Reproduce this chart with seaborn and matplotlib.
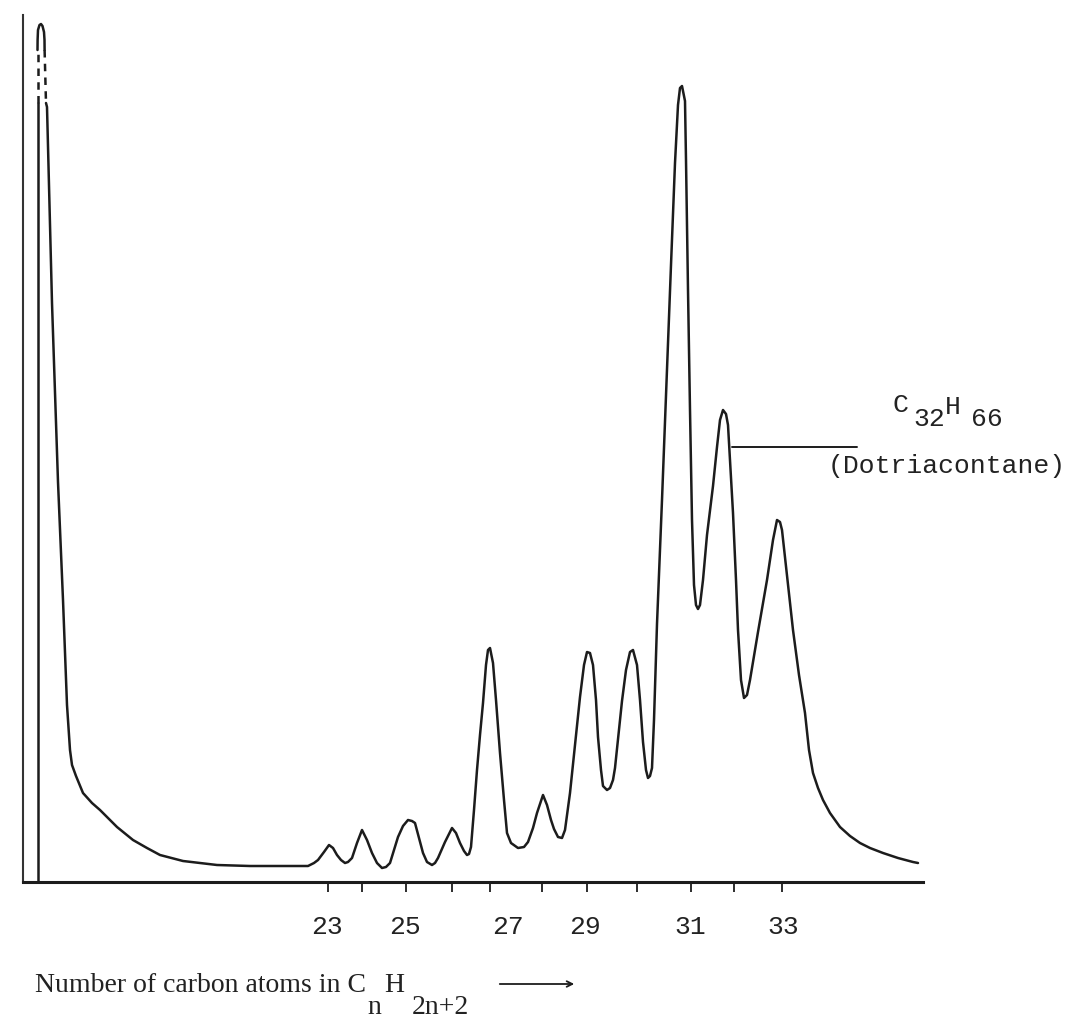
import numpy as np
import pandas as pd
import seaborn as sns
import matplotlib.pyplot as plt

# ==== chromatogram trace ====
# x = distance along the chart, h = pen height above the baseline (same units)
# solvent peak goes off scale; the pen trace is broken (dashed) near the top
solvent_rise_x = [14.5, 14.5]
solvent_rise_h = [0, 779]
gap_left_x = [14.5, 14.5]
gap_left_h = [779, 832]
solvent_cap_x = [14.5, 14.6, 15, 16.5, 18, 19.5, 21, 21.5, 21.6]
solvent_cap_h = [832, 842, 852, 857, 858, 856, 850, 842, 832]
gap_right_x = [21.6, 23]
gap_right_h = [832, 779]

trace_x = [23, 24, 29, 35, 40, 44, 47, 49, 53, 60, 69, 77, 94, 110, 124, 137, 160, 194, 227, 257, 285,
           291, 295, 301, 306, 310, 314, 318, 322, 325, 329, 334, 339, 344, 349, 354, 359, 363, 367,
           371, 375, 380, 385, 389, 392, 396, 400, 404, 409, 412, 415, 422, 429, 433, 437, 441, 444,
           446, 448, 451, 454, 457, 460, 463, 465, 467, 470, 473, 477, 481, 484, 488, 495, 501, 505,
           510, 514, 520, 524, 528, 531, 535, 539, 542, 547, 551, 554, 557, 561, 564, 567, 570, 573,
           575, 578, 580, 584, 587, 590, 592, 596, 599, 603, 607, 610, 614, 617, 620, 623, 625, 627,
           629, 631, 634, 639, 644, 648, 652, 655, 657, 659, 662, 663, 665, 667, 669, 671, 673, 675,
           677, 680, 684, 690, 694, 697, 700, 703, 705, 707, 710, 713, 715, 718, 721, 724, 727, 735,
           744, 750, 754, 757, 759, 764, 770, 776, 782, 786, 790, 795, 800, 807, 817, 827, 837, 847,
           860, 875, 890, 895]
trace_h = [779, 775, 579, 400, 282, 177, 132, 117, 106, 89, 79, 72, 55, 42, 34, 27, 21, 17, 16, 16, 16,
           19, 22, 30, 37, 34, 27, 22, 19, 20, 24, 39, 52, 42, 29, 19, 14, 15, 19,
           32, 45, 56, 62, 61, 59, 44, 29, 20, 17, 19, 24, 40, 54, 49, 39, 31, 27,
           28, 35, 72, 112, 147, 179, 217, 232, 234, 219, 182, 129, 82, 49, 39, 34, 35, 40,
           54, 69, 87, 77, 62, 53, 45, 44, 52, 89, 127, 155, 185, 217, 230, 229, 217, 182,
           145, 112, 96, 92, 94, 102, 114, 152, 181, 212, 230, 232, 217, 182, 140, 112, 104, 106,
           114, 162, 258, 382, 514, 617, 719, 777, 794, 796, 781, 722, 592, 472, 362, 297, 277, 273,
           277, 302, 347, 396, 435, 462, 472, 468, 457, 422, 369, 302, 252, 202, 184, 187, 202, 250,
           302, 342, 362, 360, 352, 307, 252, 207, 169, 132, 109, 94, 82, 69, 55, 46, 39, 34,
           29, 24, 20, 19]

# tick marks under the axis and the carbon numbers written below them
tick_pos = [305, 339, 383, 429, 467, 519, 564, 614, 668, 711, 759]
label_pos = [304, 382, 485, 562, 667, 760]
label_text = ['23', '25', '27', '29', '31', '33']

# leader line from the C32 peak to its label
leader_x = [709, 834]
leader_h = [435, 435]

W, H = 1079, 1029
ink = '#1c1c1c'


def px(x, y):
    # reference pixel position -> figure fraction
    return x / W, 1 - y / H


sns.set_style('white')
plt.rcParams['font.family'] = ['Liberation Mono', 'DejaVu Sans']

fig = plt.figure(figsize=(W / 100, H / 100), dpi=100)
ax = fig.add_axes([23 / W, 1 - 882 / H, 900 / W, 867 / H])

sns.lineplot(x=solvent_rise_x, y=solvent_rise_h, sort=False, estimator=None, color=ink, lw=1.8, ax=ax)
sns.lineplot(x=solvent_cap_x, y=solvent_cap_h, sort=False, estimator=None, color=ink, lw=1.8, ax=ax)
ax.plot(gap_left_x, gap_left_h, color=ink, lw=1.8, linestyle=(0, (3, 2.5)))
ax.plot(gap_right_x, gap_right_h, color=ink, lw=1.8, linestyle=(0, (3, 2.5)))
sns.lineplot(x=trace_x, y=trace_h, sort=False, estimator=None, color=ink, lw=1.8, ax=ax)
ax.plot(leader_x, leader_h, color=ink, lw=1.4)

ax.set_xlim(0, 900)
ax.set_ylim(0, 867)
ax.set_yticks([])
ax.set_xticks(label_pos, label_text, fontsize=19, color='#222222')
ax.set_xticks(tick_pos, minor=True)
ax.tick_params(axis='x', which='major', bottom=True, length=0, pad=24)
ax.tick_params(axis='x', which='minor', bottom=True, length=7, width=1.3, color=ink, direction='out')
ax.set_xlabel('')
ax.set_ylabel('')

for side in ['top', 'right']:
    ax.spines[side].set_visible(False)
ax.spines['left'].set_color('#333333')
ax.spines['left'].set_linewidth(1.5)
ax.spines['bottom'].set_color(ink)
ax.spines['bottom'].set_linewidth(2.2)

# C32H66 (Dotriacontane) label
mono = dict(fontsize=19, color='#222222', ha='center', va='center')
fig.text(*px(900, 405), 'C', **mono)
fig.text(*px(929, 419), '32', **mono)
fig.text(*px(953, 407), 'H', **mono)
fig.text(*px(987, 419), '66', **mono)
fig.text(*px(828, 466), '(Dotriacontane)', fontsize=19, color='#222222', ha='left', va='center')

# axis caption with the arrow
serif = dict(family=['Liberation Serif', 'DejaVu Serif'], fontsize=20, color='#222222', va='center')
fig.text(*px(35, 985), 'Number of carbon atoms in C', ha='left', **serif)
fig.text(*px(374, 1008), 'n', ha='center', **serif)
fig.text(*px(394, 985), 'H', ha='center', **serif)
fig.text(*px(440, 1008), '2n+2', ha='center', **serif)
ax.annotate('', xy=px(577, 984), xytext=px(497, 984), xycoords='figure fraction',
            textcoords='figure fraction', arrowprops=dict(arrowstyle='->', color=ink, lw=1.3))

fig.savefig('out.png', dpi=100)
